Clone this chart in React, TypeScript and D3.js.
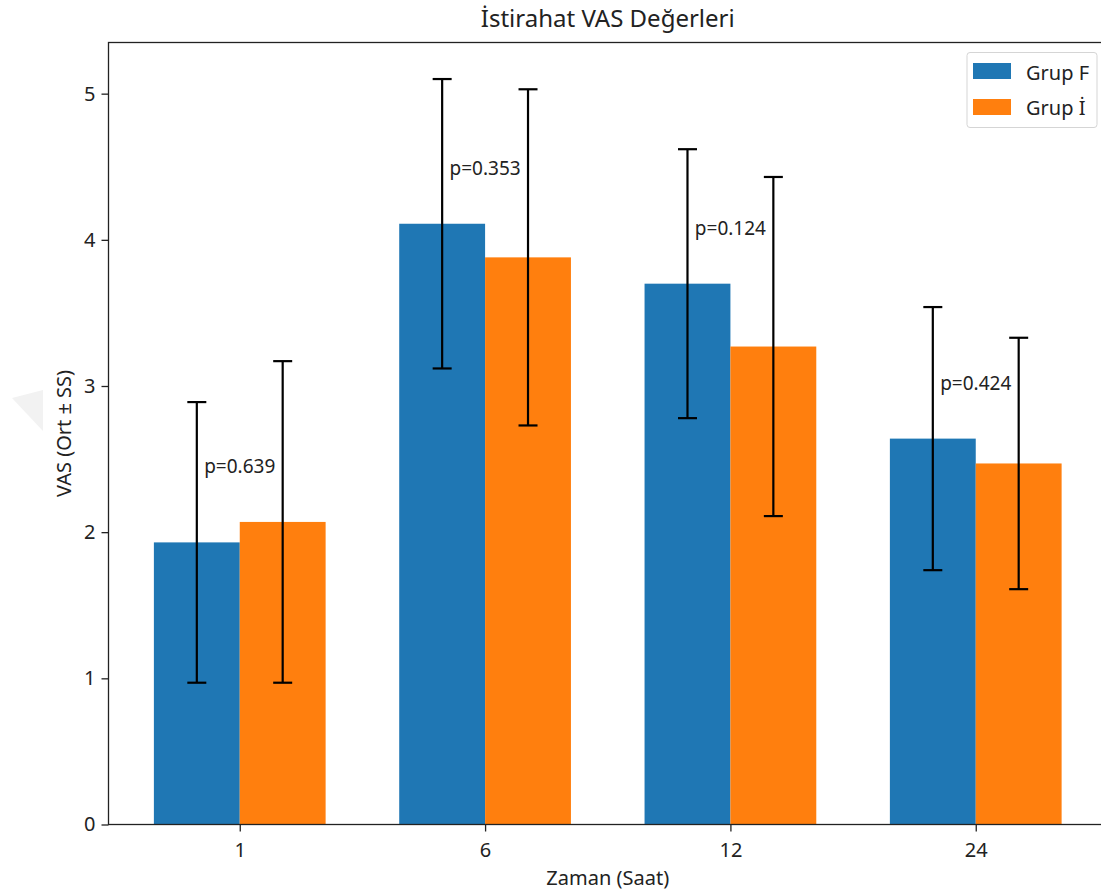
import React, { useRef, useEffect } from 'react'
import * as d3 from 'd3'

// data
const times = ['1', '6', '12', '24']
const grupF = [1.93, 4.11, 3.70, 2.64]
const grupFsd = [0.96, 0.99, 0.92, 0.90]
const grupI = [2.07, 3.88, 3.27, 2.47]
const grupIsd = [1.10, 1.15, 1.16, 0.86]
const pValues = ['p=0.639', 'p=0.353', 'p=0.124', 'p=0.424']
const yTicks = [0, 1, 2, 3, 4, 5]

const series = [
  { name: 'Grup F', values: grupF, sd: grupFsd, color: '#1f77b4', offset: -0.175 },
  { name: 'Grup İ', values: grupI, sd: grupIsd, color: '#ff7f0e', offset: 0.175 },
]

const font = '"Noto Sans", "Open Sans", sans-serif'

export default function App() {
  const ref = useRef<SVGSVGElement>(null)

  const layout = { width: 1101, height: 895, left: 108.5, right: 1107, top: 42.5, bottom: 824.5 }
  const barW = 0.35

  useEffect(() => {
    const svg = d3.select(ref.current)
    svg.selectAll('*').remove()

    const x = d3.scaleLinear().domain([-0.535, 3.535]).range([layout.left, layout.right])
    const y = d3.scaleLinear().domain([0, 5.35]).range([layout.bottom, layout.top])
    const bw = x(barW) - x(0)

    // faint watermark in the left margin
    svg.append('polygon')
      .attr('points', '12,398 43,390 43,431')
      .attr('fill', '#f2f2f2')

    // bars
    series.forEach(s => {
      svg.append('g').selectAll('rect')
        .data(s.values)
        .join('rect')
        .attr('x', (d, i) => x(i + s.offset) - bw / 2)
        .attr('y', d => y(d))
        .attr('width', bw)
        .attr('height', d => y(0) - y(d))
        .attr('fill', s.color)
    })

    // error bars
    series.forEach(s => {
      const g = svg.append('g').attr('stroke', '#000').attr('stroke-width', 2.2)
      s.values.forEach((v, i) => {
        const cx = x(i + s.offset)
        g.append('line').attr('x1', cx).attr('x2', cx).attr('y1', y(v - s.sd[i])).attr('y2', y(v + s.sd[i]))
        g.append('line').attr('x1', cx - 9.5).attr('x2', cx + 9.5).attr('y1', y(v + s.sd[i])).attr('y2', y(v + s.sd[i]))
        g.append('line').attr('x1', cx - 9.5).attr('x2', cx + 9.5).attr('y1', y(v - s.sd[i])).attr('y2', y(v - s.sd[i]))
      })
    })

    // p-value labels
    svg.append('g').selectAll('text')
      .data(pValues)
      .join('text')
      .attr('x', (d, i) => x(i))
      .attr('y', (d, i) => y(Math.max(grupF[i], grupI[i]) + 0.4) + 10)
      .attr('text-anchor', 'middle')
      .style('font-family', font)
      .style('font-size', '19px')
      .attr('fill', '#222')
      .text(d => d)

    // axes
    const yAxis = svg.append('g')
      .attr('transform', `translate(${layout.left},0)`)
      .call(d3.axisLeft(y).tickValues(yTicks).tickSize(7).tickPadding(6).tickFormat(d3.format('d')))
    const xAxis = svg.append('g')
      .attr('transform', `translate(0,${layout.bottom})`)
      .call(d3.axisBottom(x).tickValues([0, 1, 2, 3]).tickSize(7).tickPadding(11).tickFormat((d: any) => times[d]))
    ;[yAxis, xAxis].forEach(a => {
      a.select('.domain').remove()
      a.selectAll('line').attr('stroke', '#222').attr('stroke-width', 1.3)
      a.selectAll('text').style('font-family', font).style('font-size', '20px').attr('fill', '#222')
    })

    // frame
    svg.append('rect')
      .attr('x', layout.left).attr('y', layout.top)
      .attr('width', layout.right - layout.left).attr('height', layout.bottom - layout.top)
      .attr('fill', 'none').attr('stroke', '#222').attr('stroke-width', 1.3)

    // titles
    svg.append('text')
      .attr('x', (layout.left + layout.right) / 2).attr('y', 27)
      .attr('text-anchor', 'middle')
      .style('font-family', font).style('font-size', '24px').attr('fill', '#222')
      .text('İstirahat VAS Değerleri')
    svg.append('text')
      .attr('x', (layout.left + layout.right) / 2).attr('y', 885)
      .attr('text-anchor', 'middle')
      .style('font-family', font).style('font-size', '20px').attr('fill', '#222')
      .text('Zaman (Saat)')
    svg.append('text')
      .attr('transform', `translate(71,${(layout.top + layout.bottom) / 2}) rotate(-90)`)
      .attr('text-anchor', 'middle')
      .style('font-family', font).style('font-size', '20px').attr('fill', '#222')
      .text('VAS (Ort ± SS)')

    // legend
    const lg = svg.append('g')
    lg.append('rect')
      .attr('x', 967).attr('y', 52.5).attr('width', 130).attr('height', 75)
      .attr('rx', 3).attr('fill', '#fff').attr('fill-opacity', 0.8)
      .attr('stroke', '#d5d5d5')
    series.forEach((s, i) => {
      lg.append('rect')
        .attr('x', 973).attr('y', 63 + i * 36).attr('width', 38).attr('height', 16)
        .attr('fill', s.color)
      lg.append('text')
        .attr('x', 1026).attr('y', 80 + i * 35)
        .style('font-family', font).style('font-size', '20px').attr('fill', '#222')
        .text(s.name)
    })
  }, [])

  return (
    <svg ref={ref} width={layout.width} height={layout.height}
      style={{ position: 'absolute', left: 0, top: 0, background: '#fff' }} />
  )
}
